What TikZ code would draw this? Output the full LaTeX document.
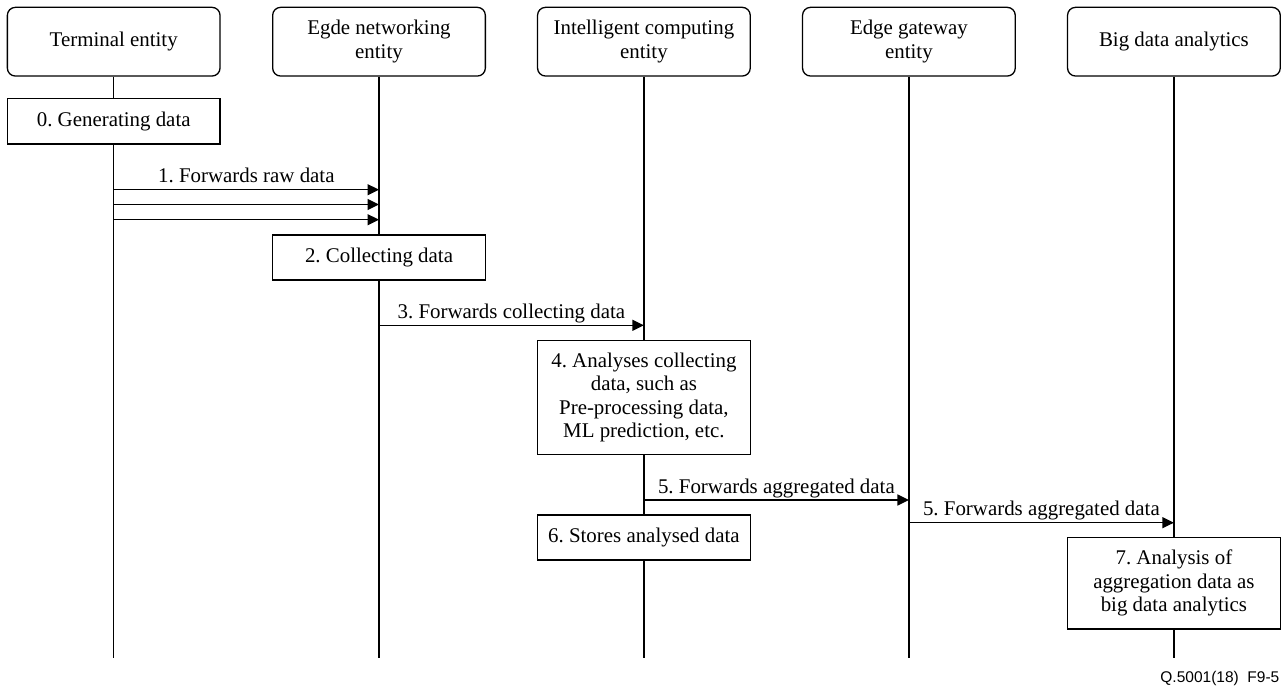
\documentclass[tikz,border=0pt]{standalone}
\usepackage{fontspec}
\setmainfont{Liberation Serif}
\newfontfamily\tagfont{Liberation Sans}
\usetikzlibrary{arrows.meta}
\frenchspacing
\begin{document}
\begin{tikzpicture}[x=1pt,y=-1pt,
  font=\fontsize{20.9}{23.5}\selectfont,
  every node/.style={inner sep=0pt},
  party/.style={draw, line width=1.3pt, rounded corners=8pt,
    minimum width=212.7pt, minimum height=68.7pt, align=center, fill=white},
  act/.style={draw, line width=1.3pt, minimum width=212.5pt, align=center, fill=white},
  life/.style={line width=1.3pt},
  msg/.style={line width=1.3pt, -{Triangle[length=11.5pt,width=11pt]}},
  msglabel/.style={midway, anchor=base, yshift=7pt}]

\useasboundingbox (0,0) rectangle (1288,687);

% participants
\node[party] (hT) at (113.7,41.7) {Terminal entity};
\node[party] (hE) at (379.0,41.7) {Egde networking\\entity};
\node[party] (hI) at (643.9,41.7) {Intelligent computing\\entity};
\node[party] (hG) at (908.9,41.7) {Edge gateway\\entity};
\node[party] (hB) at (1173.9,41.7) {Big data analytics};

% lifeline ends
\coordinate (eT) at (113.7,658.3);
\coordinate (eE) at (379.0,658.3);
\coordinate (eI) at (643.9,658.3);
\coordinate (eG) at (908.9,658.3);
\coordinate (eB) at (1173.9,658.3);

% activities
\node[act, minimum height=45.7pt] (gen) at (113.7,121.2) {0. Generating data};
\node[act, minimum height=45pt] (coll) at (379.0,257.5) {2. Collecting data};
\node[act, minimum height=113.6pt] (an) at (643.9,397.5)
  {4. Analyses collecting\\data, such as\\Pre-processing data,\\ML prediction, etc.};
\node[act, minimum height=45pt] (st) at (643.9,537.5) {6. Stores analysed data};
\node[act, minimum height=91.7pt] (ba) at (1173.9,583.2)
  {7. Analysis of\\aggregation data as\\big data analytics};

% lifelines
\draw[life] (hT.south) -- (gen.north) (gen.south) -- (eT);
\draw[life] (hE.south) -- (coll.north) (coll.south) -- (eE);
\draw[life] (hI.south) -- (an.north) (an.south) -- (st.north) (st.south) -- (eI);
\draw[life] (hG.south) -- (eG);
\draw[life] (hB.south) -- (ba.north) (ba.south) -- (eB);

% message end points on the lifelines
\coordinate (m1a) at (113.7,189.7);  \coordinate (m1b) at (379.0,189.7);
\coordinate (m2a) at (113.7,204.5);  \coordinate (m2b) at (379.0,204.5);
\coordinate (m3a) at (113.7,219.7);  \coordinate (m3b) at (379.0,219.7);
\coordinate (m4a) at (379.0,325.3);  \coordinate (m4b) at (643.9,325.3);
\coordinate (m5a) at (643.9,500.0);  \coordinate (m5b) at (908.9,500.0);
\coordinate (m6a) at (908.9,522.7);  \coordinate (m6b) at (1173.9,522.7);

% messages
\draw[msg] (m1a) -- (m1b) node[msglabel] {1. Forwards raw data};
\draw[msg] (m2a) -- (m2b);
\draw[msg] (m3a) -- (m3b);
\draw[msg] (m4a) -- (m4b) node[msglabel] {3. Forwards collecting data};
\draw[msg] (m5a) -- (m5b) node[msglabel] {5. Forwards aggregated data};
\draw[msg] (m6a) -- (m6b) node[msglabel] {5. Forwards aggregated data};

% figure tag
\node[anchor=east, font=\tagfont\fontsize{15.5}{18}\selectfont] (tag)
  at (1279.5,678.3) {Q.5001(18)\ \ F9-5};
\end{tikzpicture}
\end{document}
